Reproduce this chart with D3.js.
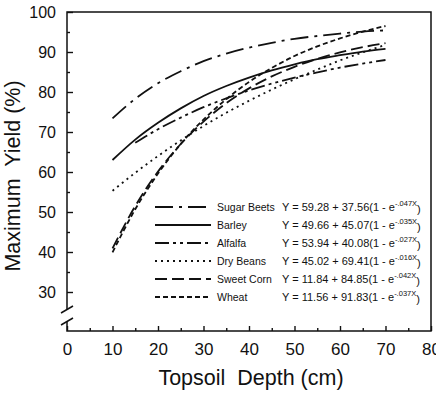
<!DOCTYPE html>
<html>
<head>
<meta charset="utf-8">
<script src="https://cdn.jsdelivr.net/npm/d3@7"></script>
<style>
  body { margin: 0; background: #fff; }
  text { font-family: "Liberation Sans", Arial, sans-serif; fill: #111; }
</style>
</head>
<body>
<svg id="chart" width="436" height="394"></svg>
<script>
// values, every 5 cm
var depth      = [10, 15, 20, 25, 30, 35, 40, 45, 50, 55, 60, 65, 70];
var sugarBeets = [73.4, 78.3, 82.2, 85.2, 87.7, 89.6, 91.1, 92.3, 93.3, 94.0, 94.6, 95.1, 95.4];
var barley     = [63.0, 68.1, 72.3, 75.9, 79.0, 81.5, 83.6, 85.4, 86.9, 88.2, 89.2, 90.1, 90.8];
var alfalfa    = [null, 67.3, 70.7, 73.6, 76.2, 78.4, 80.4, 82.1, 83.6, 84.9, 86.1, 87.1, 88.0];
var dryBeans   = [55.3, 59.8, 64.0, 67.9, 71.5, 74.8, 77.8, 80.6, 83.2, 85.6, 87.9, 89.9, 91.8];
var sweetCorn  = [40.9, 51.5, 60.1, 67.0, 72.6, 77.2, 80.9, 83.9, 86.3, 88.3, 89.9, 91.2, 92.2];
var wheat      = [39.9, 50.7, 59.6, 67.0, 73.1, 78.2, 82.5, 86.0, 89.0, 91.4, 93.4, 95.1, 96.5];

var cropNames = ["Sugar Beets", "Barley", "Alfalfa", "Dry Beans", "Sweet Corn", "Wheat"];
var eqMain = ["Y = 59.28 + 37.56(1 - e", "Y = 49.66 + 45.07(1 - e", "Y = 53.94 + 40.08(1 - e",
              "Y = 45.02 + 69.41(1 - e", "Y = 11.84 + 84.85(1 - e", "Y = 11.56 + 91.83(1 - e"];
var eqExp  = ["-.047X", "-.035X", "-.027X", "-.016X", "-.042X", "-.037X"];

var xMajor = [0, 10, 20, 30, 40, 50, 60, 70, 80];
var xMinor = [5, 15, 25, 35, 45, 55, 65, 75];
var yMajor = [30, 40, 50, 60, 70, 80, 90, 100];
var yMinor = [35, 45, 55, 65, 75, 85, 95];

var allSeries = [sugarBeets, barley, alfalfa, dryBeans, sweetCorn, wheat];
var dashes = ["18,6,3,6", null, "14,4,3,4,3,4", "2,4", "12,5", "5,3"];

// plot frame edges (window.top is reserved, hence the prefix)
var pLeft = 67, pRight = 431, pTop = 12, pBottom = 331;

var svg = d3.select("#chart");

var x = d3.scaleLinear().domain([0, 80]).range([pLeft, pRight]);
var y = d3.scaleLinear().domain([30, 100]).range([292, pTop]);

// frame (left axis broken near the bottom)
var frame = svg.append("g").attr("stroke", "#111").attr("stroke-width", 1.5).attr("fill", "none");
frame.append("path").attr("d",
  "M" + pLeft + ",309V" + pTop + "H" + pRight + "V" + pBottom + "H" + pLeft + "V321");
frame.append("line").attr("x1", 61).attr("y1", 313).attr("x2", 73).attr("y2", 306);
frame.append("line").attr("x1", 61).attr("y1", 325).attr("x2", 73).attr("y2", 318);

// x axis
var xAx = svg.append("g").attr("transform", "translate(0," + pBottom + ")")
  .call(d3.axisBottom(x).tickValues(xMajor).tickSizeInner(-5).tickSizeOuter(0).tickPadding(12));
svg.append("g").attr("transform", "translate(0," + pBottom + ")")
  .call(d3.axisBottom(x).tickValues(xMinor).tickSizeInner(-3).tickSizeOuter(0).tickFormat(""));

// y axis
var yAx = svg.append("g").attr("transform", "translate(" + pLeft + ",0)")
  .call(d3.axisLeft(y).tickValues(yMajor).tickSizeInner(-6).tickSizeOuter(0).tickPadding(11));
svg.append("g").attr("transform", "translate(" + pLeft + ",0)")
  .call(d3.axisLeft(y).tickValues(yMinor).tickSizeInner(-3).tickSizeOuter(0).tickFormat(""));

svg.selectAll(".domain").remove();
svg.selectAll(".tick line").attr("stroke", "#111").attr("stroke-width", 1.4);
xAx.selectAll("text").attr("font-size", 17).attr("fill", "#111").style("font-family", "Liberation Sans, Arial, sans-serif");
yAx.selectAll("text").attr("font-size", 16).attr("fill", "#111").style("font-family", "Liberation Sans, Arial, sans-serif");

// axis titles
svg.append("text").attr("x", 251).attr("y", 385).attr("text-anchor", "middle")
  .attr("font-size", 21.5).attr("xml:space", "preserve").text("Topsoil  Depth (cm)");
svg.append("text").attr("transform", "translate(20,176) rotate(-90)").attr("text-anchor", "middle")
  .attr("font-size", 21.5).attr("xml:space", "preserve").text("Maximum  Yield (%)");

// curves
var line = d3.line()
  .defined(function (d) { return d[1] != null; })
  .x(function (d) { return x(d[0]); })
  .y(function (d) { return y(d[1]); })
  .curve(d3.curveMonotoneX);

allSeries.forEach(function (vals, i) {
  var pts = depth.map(function (dp, j) { return [dp, vals[j]]; });
  svg.append("path")
    .attr("d", line(pts))
    .attr("fill", "none")
    .attr("stroke", "#111")
    .attr("stroke-width", 1.8)
    .attr("stroke-dasharray", dashes[i]);
});

// legend
var leg = svg.append("g");
cropNames.forEach(function (name, i) {
  var ly = 207 + i * 18;
  leg.append("line")
    .attr("x1", 155).attr("x2", 211).attr("y1", ly).attr("y2", ly)
    .attr("stroke", "#111").attr("stroke-width", 1.8)
    .attr("stroke-dasharray", dashes[i]);
  leg.append("text").attr("x", 217).attr("y", ly + 4).attr("font-size", 10.5).text(name);
  var t = leg.append("text").attr("x", 282).attr("y", ly + 4).attr("font-size", 11);
  t.append("tspan").text(eqMain[i]);
  t.append("tspan").attr("dy", -5).attr("font-size", 7.5).text(eqExp[i]);
  t.append("tspan").attr("dy", 7).text(")");
});
</script>
</body>
</html>
